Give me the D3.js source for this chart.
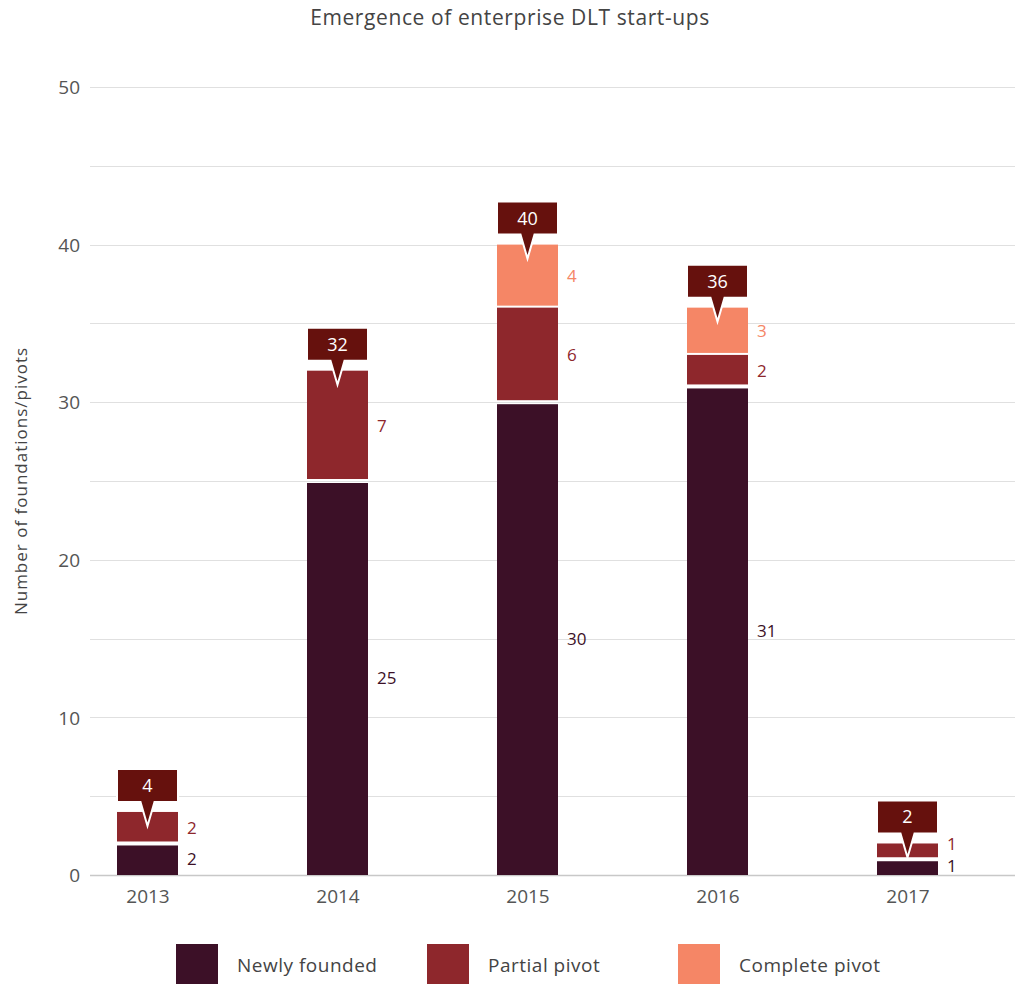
<!DOCTYPE html>
<html>
<head>
<meta charset="utf-8">
<script src="https://cdn.jsdelivr.net/npm/d3@7"></script>
<style>
  html, body { margin: 0; padding: 0; background: #fff; }
  svg { display: block; font-family: "Open Sans", Lato, sans-serif; }
</style>
</head>
<body>
<svg id="chart" width="1024" height="984"></svg>
<script>
// ---- data ----
const years = ["2013", "2014", "2015", "2016", "2017"];
const seriesNames = ["Newly founded", "Partial pivot", "Complete pivot"];
const newlyFounded = [2, 25, 30, 31, 1];
const partialPivot = [2, 7, 6, 2, 1];
const completePivot = [0, 0, 4, 3, 0];
const totals = [4, 32, 40, 36, 2];
const yTicks = [0, 10, 20, 30, 40, 50];
const gridValues = [0, 5, 10, 15, 20, 25, 30, 35, 40, 45, 50];

const colors = ["#3c1027", "#8e272c", "#f58666"];
const calloutColor = "#66110d";
const FONT = "'Open Sans', Lato, sans-serif";

const svg = d3.select("#chart");
const plotLeft = 90, plotRight = 1015, plotTop = 87, plotBottom = 875;

const x = d3.scalePoint().domain(years).range([147.5, 907.5]);
const y = d3.scaleLinear().domain([0, 50]).range([plotBottom, plotTop]);
const barW = 61;

// title
svg.append("text")
  .attr("x", 510).attr("y", 25)
  .attr("text-anchor", "middle")
  .attr("font-size", 21).attr("letter-spacing", 0.6).attr("fill", "#444")
  .text("Emergence of enterprise DLT start-ups");

// gridlines
svg.append("g").selectAll("line").data(gridValues.filter(v => v > 0)).join("line")
  .attr("x1", plotLeft).attr("x2", plotRight)
  .attr("y1", d => Math.round(y(d)) + 0.5).attr("y2", d => Math.round(y(d)) + 0.5)
  .attr("stroke", "#e0e0e0").attr("stroke-width", 1);

// y axis (labels only)
const yAxis = d3.axisLeft(y).tickValues(yTicks).tickSize(0).tickPadding(0);
const yg = svg.append("g").attr("transform", `translate(80,0)`).call(yAxis);
yg.select(".domain").remove();
yg.selectAll("text")
  .attr("font-family", FONT)
  .attr("font-size", 19).attr("fill", "#555").attr("dy", "0.35em");

// y axis title
svg.append("text")
  .attr("transform", `translate(27,${(plotTop + plotBottom) / 2}) rotate(-90)`)
  .attr("text-anchor", "middle")
  .attr("font-size", 17).attr("letter-spacing", 1).attr("fill", "#444")
  .text("Number of foundations/pivots");

// x axis
const xAxis = d3.axisBottom(x).tickSize(0).tickPadding(15);
const xg = svg.append("g").attr("transform", `translate(0,${plotBottom})`).call(xAxis);
xg.select(".domain").remove();
xg.selectAll("text")
  .attr("font-family", FONT)
  .attr("font-size", 19).attr("fill", "#555");
svg.append("line")
  .attr("x1", plotLeft).attr("x2", plotRight)
  .attr("y1", plotBottom + 0.5).attr("y2", plotBottom + 0.5)
  .attr("stroke", "#c8c8c8").attr("stroke-width", 1.5);

// stacked data
const seriesVals = [newlyFounded, partialPivot, completePivot];
const segments = [];
years.forEach((yr, i) => {
  let cum = 0;
  seriesVals.forEach((vals, s) => {
    const v = vals[i];
    if (v > 0) {
      segments.push({ year: yr, s, v, y0: cum, y1: cum + v });
    }
    cum += v;
  });
});

const gap = 4;
svg.append("g").selectAll("rect").data(segments).join("rect")
  .attr("x", d => x(d.year) - barW / 2)
  .attr("width", barW)
  .attr("y", d => y(d.y1) + (d.s === 0 && d.y1 > 0 ? 2 : 0))
  .attr("height", d => y(d.y0) - y(d.y1) - (d.y0 > 0 ? gap - 2 : 0) - (d.s === 0 ? 2 : 0))
  .attr("fill", d => colors[d.s]);

// segment label positions with simple collision avoidance (per bar, bottom-up)
const minSep = 22;
years.forEach(yr => {
  let prev = Infinity;
  segments.filter(d => d.year === yr).forEach(d => {
    let ly = (y(d.y1) + y(d.y0)) / 2;
    if (d.s === 0) ly = Math.min(ly, y(d.y0) - 9);
    if (ly > prev - minSep) ly = prev - minSep;
    d.ly = ly;
    prev = ly;
  });
});
svg.append("g").selectAll("text").data(segments).join("text")
  .attr("x", d => x(d.year) + barW / 2 + 9)
  .attr("y", d => d.ly)
  .attr("dy", "0.35em")
  .attr("font-size", 17).attr("font-weight", 500)
  .attr("fill", d => colors[d.s])
  .text(d => d.v);

// callouts
const stackTops = years.map((yr, i) => newlyFounded[i] + partialPivot[i] + completePivot[i]);
const callouts = years.map((yr, i) => ({ year: yr, total: totals[i], top: stackTops[i] }));
const boxH = 33, boxGap = 10, tipDepth = 14, tipHalf = 7;
const cg = svg.append("g").selectAll("g").data(callouts).join("g");
cg.append("path")
  .attr("d", d => {
    const cx = x(d.year), t = y(d.top);
    const bb = t - boxGap, bt = bb - boxH;
    const l = cx - barW / 2, r = cx + barW / 2;
    return `M${l},${bt}H${r}V${bb}H${cx + tipHalf}L${cx},${t + tipDepth}L${cx - tipHalf},${bb}H${l}Z`;
  })
  .attr("fill", calloutColor)
  .attr("stroke", "#fff").attr("stroke-width", 2).attr("stroke-linejoin", "miter");
cg.append("text")
  .attr("x", d => x(d.year))
  .attr("y", d => y(d.top) - boxGap - boxH / 2)
  .attr("dy", "0.36em")
  .attr("text-anchor", "middle")
  .attr("font-size", 18).attr("font-weight", 500).attr("fill", "#fff")
  .text(d => d.total);

// legend
const legendX = [176, 427, 678];
const lg = svg.append("g").selectAll("g").data(seriesNames).join("g")
  .attr("transform", (d, i) => `translate(${legendX[i]},944)`);
lg.append("rect").attr("width", 42).attr("height", 40)
  .attr("fill", (d, i) => colors[i]);
lg.append("text").attr("x", 61).attr("y", 21).attr("dy", "0.35em")
  .attr("font-size", 19).attr("letter-spacing", 0.5).attr("fill", "#444")
  .text(d => d);
</script>
</body>
</html>
